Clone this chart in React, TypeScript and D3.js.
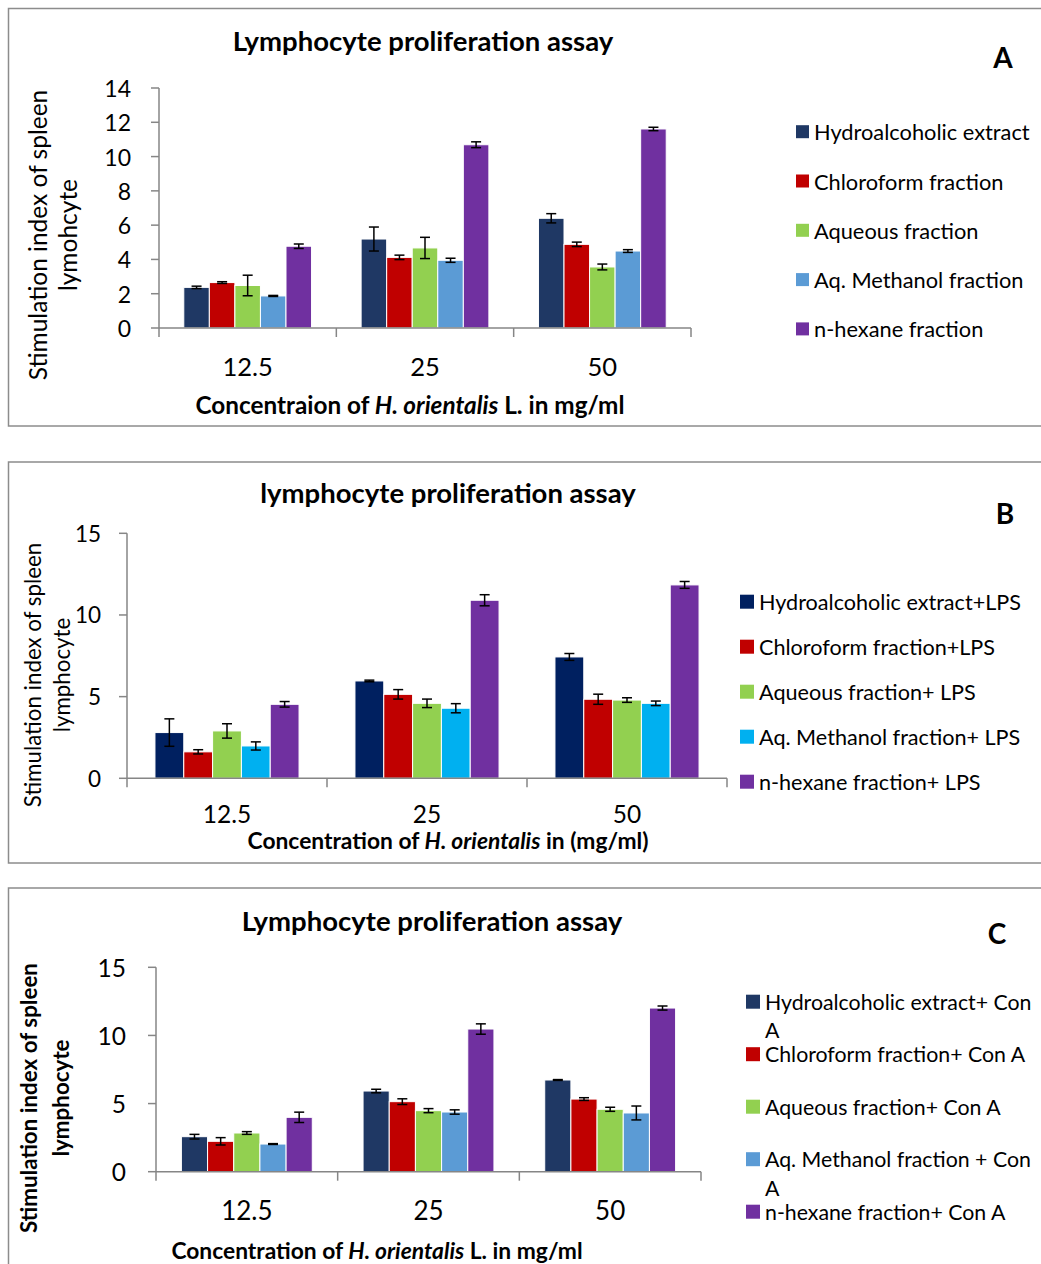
import React from "react";
import * as d3 from "d3";

const concentrations = ["12.5", "25", "50"];

// panel A: extracts alone
const seriesA = ["Hydroalcoholic extract", "Chloroform fraction", "Aqueous fraction", "Aq. Methanol fraction", "n-hexane fraction"];
const colorsA = ["#1f3864", "#c00000", "#92d050", "#5b9bd5", "#7030a0"];
const valuesA = [
  [2.37, 5.19, 6.4],
  [2.65, 4.12, 4.88],
  [2.48, 4.67, 3.56],
  [1.87, 3.95, 4.49],
  [4.77, 10.69, 11.61],
];
const errorsA = [
  [0.07, 0.7, 0.27],
  [0.05, 0.13, 0.13],
  [0.6, 0.62, 0.17],
  [0.03, 0.12, 0.08],
  [0.13, 0.17, 0.1],
];
const ticksA = [0, 2, 4, 6, 8, 10, 12, 14];

// panel B: + LPS
const seriesB = ["Hydroalcoholic extract+LPS", "Chloroform fraction+LPS", "Aqueous fraction+ LPS", "Aq. Methanol fraction+ LPS", "n-hexane fraction+ LPS"];
const colorsB = ["#002060", "#c00000", "#92d050", "#00b0f0", "#7030a0"];
const valuesB = [
  [2.8, 5.96, 7.43],
  [1.62, 5.14, 4.84],
  [2.9, 4.59, 4.79],
  [1.98, 4.29, 4.59],
  [4.53, 10.9, 11.84],
];
const errorsB = [
  [0.84, 0.05, 0.21],
  [0.13, 0.29, 0.31],
  [0.44, 0.26, 0.14],
  [0.25, 0.28, 0.14],
  [0.17, 0.34, 0.21],
];
const ticksB = [0, 5, 10, 15];

// panel C: + Con A
const seriesC = ["Hydroalcoholic extract+ Con\nA", "Chloroform fraction+ Con A", "Aqueous fraction+ Con A", "Aq. Methanol fraction + Con\nA", "n-hexane fraction+ Con A"];
const colorsC = ["#1f3864", "#c00000", "#92d050", "#5b9bd5", "#7030a0"];
const valuesC = [
  [2.57, 5.92, 6.73],
  [2.23, 5.14, 5.33],
  [2.84, 4.48, 4.58],
  [2.03, 4.38, 4.31],
  [3.99, 10.47, 12.01],
];
const errorsC = [
  [0.17, 0.13, 0.03],
  [0.27, 0.21, 0.1],
  [0.1, 0.15, 0.15],
  [0.03, 0.16, 0.51],
  [0.38, 0.38, 0.15],
];
const ticksC = [0, 5, 10, 15];

const FONT = "Lato, 'Open Sans', sans-serif";
const AXIS = "#868686";

interface PanelProps {
  series: string[];
  colors: string[];
  values: number[][];
  errors: number[][];
  ticks: number[];
  frame: { y0: number; y1: number };
  plot: { left: number; right: number; top: number; bottom: number };
  title: string;
  titlePos: [number, number];
  letter: string;
  letterPos: [number, number];
  yLabel: string[];
  yLabelX: number[];
  yLabelY: number;
  yLabelBold: boolean;
  yLabelSize: number;
  yTickSize: number;
  yTickGap: number;
  xTickSize: number;
  xTickY: number;
  xTitle: [string, string, string];
  xTitlePos: [number, number];
  xTitleSize: number;
  legend: { x: number; y0: number; dy: number; size: number; font: number; wrap: number };
}

function Panel(p: PanelProps) {
  const { plot } = p;
  const x0 = d3.scaleBand<string>().domain(concentrations).range([plot.left, plot.right]);
  const x1 = d3
    .scaleBand<number>()
    .domain(d3.range(p.series.length))
    .range([0, x0.bandwidth()])
    .paddingOuter(0.97);
  const y = d3
    .scaleLinear()
    .domain([0, p.ticks[p.ticks.length - 1]])
    .range([plot.bottom, plot.top]);
  const bounds = [...concentrations.map((c) => x0(c)!), plot.right];
  const cap = 5;

  return (
    <g>
      <rect x={8.5} y={p.frame.y0} width={1060} height={p.frame.y1 - p.frame.y0} fill="none" stroke="#8c8c8c" strokeWidth={1.5} />
      <text x={p.titlePos[0]} y={p.titlePos[1]} textAnchor="middle" dominantBaseline="central" fontSize={27.5} fontWeight="bold" fontFamily={FONT}>
        {p.title}
      </text>
      <text x={p.letterPos[0]} y={p.letterPos[1]} textAnchor="middle" dominantBaseline="central" fontSize={28} fontWeight="bold" fontFamily={FONT}>
        {p.letter}
      </text>

      {/* y axis */}
      <line x1={plot.left} x2={plot.left} y1={plot.top} y2={plot.bottom} stroke={AXIS} strokeWidth={1.5} />
      {p.ticks.map((t) => (
        <g key={t}>
          <line x1={plot.left - 8} x2={plot.left} y1={y(t)} y2={y(t)} stroke={AXIS} strokeWidth={1.5} />
          <text x={plot.left - p.yTickGap} y={y(t)} textAnchor="end" dominantBaseline="central" fontSize={p.yTickSize} fontFamily={FONT}>
            {t}
          </text>
        </g>
      ))}
      {p.yLabel.map((s, i) => (
        <text
          key={s}
          transform={`translate(${p.yLabelX[i]},${p.yLabelY}) rotate(-90)`}
          textAnchor="middle"
          dominantBaseline="central"
          fontSize={p.yLabelSize}
          fontWeight={p.yLabelBold ? "bold" : "normal"}
          fontFamily={FONT}
        >
          {s}
        </text>
      ))}

      {/* bars */}
      {concentrations.map((c, ci) =>
        p.series.map((_, si) => {
          const bx = x0(c)! + x1(si)!;
          const v = p.values[si][ci];
          const e = p.errors[si][ci];
          const cx = bx + x1.bandwidth() / 2;
          return (
            <g key={`${c}-${si}`}>
              <rect x={bx} y={y(v)} width={x1.bandwidth()} height={y(0) - y(v)} fill={p.colors[si]} stroke="#fff" strokeWidth={1} />
              <line x1={cx} x2={cx} y1={y(v + e)} y2={y(v - e)} stroke="#000" strokeWidth={1.5} />
              <line x1={cx - cap} x2={cx + cap} y1={y(v + e)} y2={y(v + e)} stroke="#000" strokeWidth={1.5} />
              <line x1={cx - cap} x2={cx + cap} y1={y(v - e)} y2={y(v - e)} stroke="#000" strokeWidth={1.5} />
            </g>
          );
        })
      )}

      {/* x axis */}
      <line x1={plot.left} x2={plot.right} y1={plot.bottom} y2={plot.bottom} stroke={AXIS} strokeWidth={1.5} />
      {bounds.map((b) => (
        <line key={b} x1={b} x2={b} y1={plot.bottom} y2={plot.bottom + 9} stroke={AXIS} strokeWidth={1.5} />
      ))}
      {concentrations.map((c) => (
        <text key={c} x={x0(c)! + x0.bandwidth() / 2} y={p.xTickY} textAnchor="middle" dominantBaseline="central" fontSize={p.xTickSize} fontFamily={FONT}>
          {c}
        </text>
      ))}
      <text x={p.xTitlePos[0]} y={p.xTitlePos[1]} textAnchor="middle" dominantBaseline="central" fontSize={p.xTitleSize} fontWeight="bold" fontFamily={FONT}>
        {p.xTitle[0]}
        <tspan fontStyle="italic">{p.xTitle[1]}</tspan>
        {p.xTitle[2]}
      </text>

      {/* legend */}
      {p.series.map((s, i) => {
        const ly = p.legend.y0 + i * p.legend.dy;
        const lines = s.split("\n");
        return (
          <g key={s}>
            <rect x={p.legend.x} y={ly - p.legend.size / 2} width={p.legend.size} height={p.legend.size} fill={p.colors[i]} />
            {lines.map((ln, li) => (
              <text key={li} x={p.legend.x + p.legend.size + 5} y={ly + li * p.legend.wrap} dominantBaseline="central" fontSize={p.legend.font} fontFamily={FONT}>
                {ln}
              </text>
            ))}
          </g>
        );
      })}
    </g>
  );
}

export default function App() {
  return (
    <div style={{ position: "absolute", left: 0, top: 0 }}>
      <svg width={1041} height={1264} style={{ display: "block", background: "#fff" }}>
        <Panel
          series={seriesA}
          colors={colorsA}
          values={valuesA}
          errors={errorsA}
          ticks={ticksA}
          frame={{ y0: 8.5, y1: 426 }}
          plot={{ left: 159, right: 691, top: 88, bottom: 328 }}
          title="Lymphocyte proliferation assay"
          titlePos={[423, 40]}
          letter="A"
          letterPos={[1003, 57]}
          yLabel={["Stimulation index of spleen", "lymohcyte"]}
          yLabelX={[37, 67]}
          yLabelY={235}
          yLabelBold={false}
          yLabelSize={24.5}
          yTickSize={23}
          yTickGap={28}
          xTickSize={25.5}
          xTickY={366}
          xTitle={["Concentraion of ", "H. orientalis", " L. in mg/ml"]}
          xTitlePos={[410, 404]}
          xTitleSize={24.3}
          legend={{ x: 796, y0: 131.7, dy: 49.3, size: 13, font: 21.8, wrap: 30 }}
        />
        <Panel
          series={seriesB}
          colors={colorsB}
          values={valuesB}
          errors={errorsB}
          ticks={ticksB}
          frame={{ y0: 462, y1: 863 }}
          plot={{ left: 127, right: 727, top: 533.3, bottom: 778.3 }}
          title="lymphocyte proliferation assay"
          titlePos={[448, 492]}
          letter="B"
          letterPos={[1005, 513]}
          yLabel={["Stimulation index of spleen", "lymphocyte"]}
          yLabelX={[32, 61]}
          yLabelY={675}
          yLabelBold={false}
          yLabelSize={22.3}
          yTickSize={22.5}
          yTickGap={26}
          xTickSize={24.5}
          xTickY={813}
          xTitle={["Concentration of ", "H. orientalis", " in (mg/ml)"]}
          xTitlePos={[448, 840]}
          xTitleSize={22.8}
          legend={{ x: 740, y0: 601.7, dy: 45, size: 14, font: 21.6, wrap: 30 }}
        />
        <Panel
          series={seriesC}
          colors={colorsC}
          values={valuesC}
          errors={errorsC}
          ticks={ticksC}
          frame={{ y0: 888, y1: 1290 }}
          plot={{ left: 156, right: 701, top: 967.3, bottom: 1171.7 }}
          title="Lymphocyte proliferation assay"
          titlePos={[432, 920]}
          letter="C"
          letterPos={[997, 933]}
          yLabel={["Stimulation index of spleen", "lymphocyte"]}
          yLabelX={[28.5, 60]}
          yLabelY={1098}
          yLabelBold={true}
          yLabelSize={22.4}
          yTickSize={24.5}
          yTickGap={30}
          xTickSize={26}
          xTickY={1210}
          xTitle={["Concentration of ", "H. orientalis", " L. in mg/ml"]}
          xTitlePos={[377, 1250]}
          xTitleSize={22.8}
          legend={{ x: 746, y0: 1001.7, dy: 52.5, size: 14, font: 21.3, wrap: 28.5 }}
        />
      </svg>
    </div>
  );
}
